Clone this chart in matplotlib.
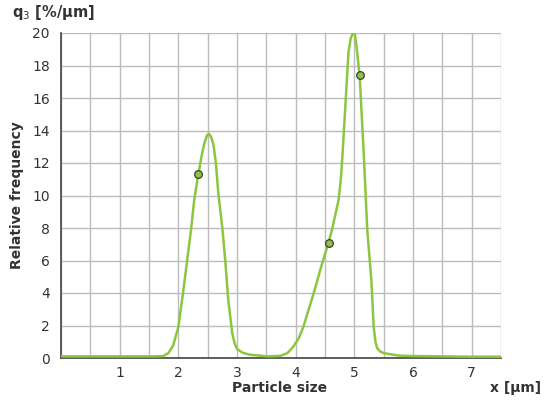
import matplotlib
matplotlib.use("Agg")
import matplotlib.pyplot as plt
from matplotlib.ticker import MultipleLocator

# Curve (x in µm, q3 in %/µm)
curve_x = [0.0, 1.0, 1.6, 1.74, 1.83, 1.91, 2.0, 2.08, 2.15, 2.22, 2.27, 2.34, 2.40, 2.45,
           2.49, 2.52, 2.56, 2.60, 2.64, 2.68, 2.75, 2.80, 2.85, 2.92, 2.96, 3.0, 3.1,
           3.22, 3.53, 3.74, 3.86, 3.96, 4.05, 4.13, 4.3, 4.45, 4.56, 4.62, 4.73, 4.77,
           4.80, 4.85, 4.90, 4.94, 4.98, 5.01, 5.04, 5.06, 5.09, 5.16, 5.22, 5.29, 5.33,
           5.36, 5.39, 5.44, 5.5, 5.75, 6.0, 6.5, 7.0, 7.5]
curve_y = [0.1, 0.1, 0.1, 0.12, 0.3, 0.75, 1.9, 4.0, 6.0, 8.0, 9.7, 11.3, 12.5, 13.3,
           13.7, 13.8, 13.6, 13.1, 12.0, 10.2, 8.0, 6.0, 3.6, 1.5, 0.9, 0.55, 0.32,
           0.2, 0.1, 0.13, 0.3, 0.7, 1.2, 1.9, 3.9, 5.8, 7.1, 7.9, 9.7, 11.0,
           12.6, 15.7, 18.8, 19.7, 20.0, 19.9, 19.1, 18.4, 17.4, 12.6, 7.9, 4.8, 1.9,
           1.0, 0.6, 0.4, 0.3, 0.15, 0.12, 0.1, 0.08, 0.08]

# Marked points
pt_x = [2.34, 4.56, 5.09]
pt_y = [11.3, 7.1, 17.4]

x_ticks = [1, 2, 3, 4, 5, 6, 7]
y_ticks = [0, 2, 4, 6, 8, 10, 12, 14, 16, 18, 20]

line_color = "#8cc63f"
grid_color = "#bcbcbc"
text_color = "#333333"

fig = plt.figure(figsize=(5.47, 4.0), dpi=100)
ax = fig.add_axes([61 / 547, 42 / 400, 440 / 547, 325 / 400])

ax.plot(curve_x, curve_y, color=line_color, lw=1.8, solid_joinstyle="round", zorder=3)
ax.plot(pt_x, pt_y, "o", ms=5.5, mfc=line_color, mec="#3a3a3a", mew=0.9, zorder=4)

ax.set_xlim(0, 7.5)
ax.set_ylim(0, 20)
ax.set_xticks(x_ticks)
ax.set_yticks(y_ticks)
ax.xaxis.set_minor_locator(MultipleLocator(0.5))
ax.grid(True, which="both", axis="x", color=grid_color, lw=1.0, zorder=0)
ax.grid(True, which="major", axis="y", color=grid_color, lw=1.0, zorder=0)
ax.set_axisbelow(True)

for s in ["top", "right"]:
    ax.spines[s].set_visible(False)
for s in ["left", "bottom"]:
    ax.spines[s].set_color("#444444")
    ax.spines[s].set_linewidth(1.2)

ax.tick_params(axis="both", which="both", length=0, labelsize=10, labelcolor=text_color)
ax.tick_params(axis="y", pad=8)
ax.tick_params(axis="x", pad=6)

fig.text(12 / 547, 1 - 12 / 400, "q$_3$ [%/µm]", fontsize=10.5, fontweight="bold",
         color=text_color, ha="left", va="center")
fig.text(17 / 547, 1 - 195 / 400, "Relative frequency", fontsize=10, fontweight="bold",
         color=text_color, rotation=90, ha="center", va="center")
fig.text(280 / 547, 1 - 388 / 400, "Particle size", fontsize=10, fontweight="bold",
         color=text_color, ha="center", va="center")
fig.text(541 / 547, 1 - 388 / 400, "x [µm]", fontsize=10, fontweight="bold",
         color=text_color, ha="right", va="center")

fig.savefig("out.png", dpi=100)
